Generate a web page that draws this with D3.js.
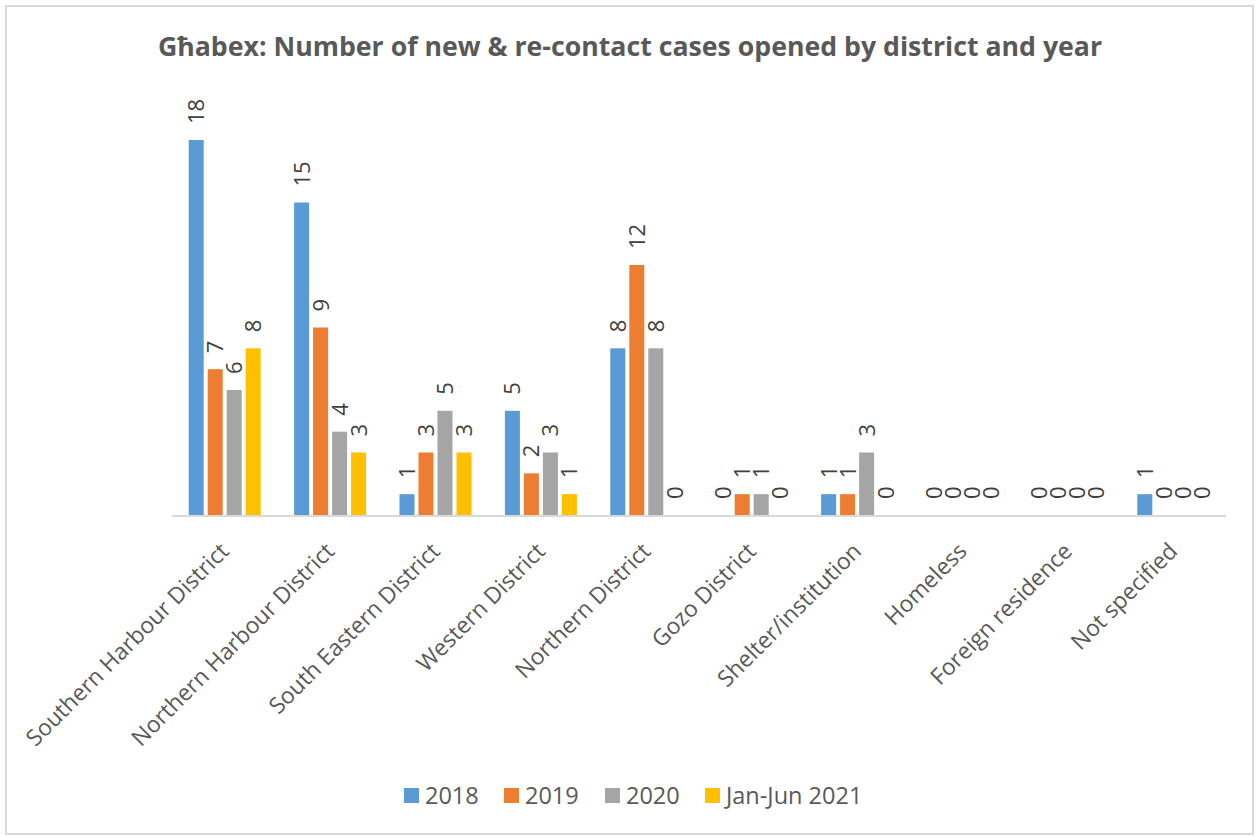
<!DOCTYPE html>
<html>
<head>
<meta charset="utf-8">
<script src="https://cdn.jsdelivr.net/npm/d3@7"></script>
<style>
  body { margin: 0; background: #fff; }
  svg text { font-family: "Open Sans", sans-serif; }
</style>
</head>
<body>
<div id="chart"></div>
<script>
// data
var districts = ["Southern Harbour District", "Northern Harbour District", "South Eastern District",
  "Western District", "Northern District", "Gozo District", "Shelter/institution",
  "Homeless", "Foreign residence", "Not specified"];
var seriesNames = ["2018", "2019", "2020", "Jan-Jun 2021"];
var cases2018 = [18, 15, 1, 5, 8, 0, 1, 0, 0, 1];
var cases2019 = [7, 9, 3, 2, 12, 1, 1, 0, 0, 0];
var cases2020 = [6, 4, 5, 3, 8, 1, 3, 0, 0, 0];
var cases2021 = [8, 3, 3, 1, 0, 0, 0, 0, 0, 0];
var colors = ["#5b9bd5", "#ed7d31", "#a5a5a5", "#ffc000"];

var allSeries = [cases2018, cases2019, cases2020, cases2021];

var width = 1259, height = 836;
var plotLeft = 172, plotRight = 1226, baseY = 515, topY = 140;

var svg = d3.select("#chart").append("svg")
  .attr("width", width)
  .attr("height", height);

// chart frame
svg.append("rect")
  .attr("x", 6).attr("y", 6)
  .attr("width", 1247).attr("height", 828)
  .attr("fill", "#fff")
  .attr("stroke", "#d9d9d9")
  .attr("stroke-width", 2);

svg.append("text")
  .attr("x", 630).attr("y", 56)
  .attr("text-anchor", "middle")
  .attr("font-size", 26.7)
  .attr("font-weight", "bold")
  .attr("fill", "#595959")
  .text("Għabex: Number of new & re-contact cases opened by district and year");

var x = d3.scaleBand().domain(districts).range([plotLeft, plotRight]);
var xs = d3.scaleBand().domain(seriesNames)
  .range([16.7, x.bandwidth() - 16.7])
  .paddingInner(0.21);
var y = d3.scaleLinear().domain([0, 18]).range([baseY, topY]);

var groups = svg.selectAll("g.series")
  .data(allSeries)
  .enter()
  .append("g")
    .attr("class", "series")
    .attr("fill", function(d, i){ return colors[i]; });

groups.selectAll("rect")
  .data(function(d, i){ return d.map(function(v, j){ return {v: v, cat: districts[j], s: seriesNames[i]}; }); })
  .enter()
  .append("rect")
    .attr("x", function(d){ return x(d.cat) + xs(d.s); })
    .attr("y", function(d){ return y(d.v); })
    .attr("width", xs.bandwidth())
    .attr("height", function(d){ return baseY - y(d.v); });

groups.selectAll("text")
  .data(function(d, i){ return d.map(function(v, j){ return {v: v, cat: districts[j], s: seriesNames[i]}; }); })
  .enter()
  .append("text")
    .attr("transform", function(d){
      var cx = x(d.cat) + xs(d.s) + xs.bandwidth() / 2;
      return "translate(" + cx + "," + (y(d.v) - 16) + ") rotate(-90)";
    })
    .attr("dy", "0.36em")
    .attr("font-size", 22)
    .attr("fill", "#404040")
    .text(function(d){ return d.v; });

// axis line
svg.append("line")
  .attr("x1", plotLeft).attr("x2", plotRight)
  .attr("y1", baseY + 1).attr("y2", baseY + 1)
  .attr("stroke", "#d9d9d9")
  .attr("stroke-width", 2);

svg.selectAll("text.cat")
  .data(districts)
  .enter()
  .append("text")
    .attr("class", "cat")
    .attr("transform", function(d){ return "translate(" + (x(d) + x.bandwidth() / 2) + ",547) rotate(-45)"; })
    .attr("text-anchor", "end")
    .attr("dy", "0.35em")
    .attr("font-size", 22.8)
    .attr("fill", "#595959")
    .text(function(d){ return d; });

// legend
var legendX = [404, 504, 605, 705];
var legend = svg.selectAll("g.legend")
  .data(seriesNames)
  .enter()
  .append("g")
    .attr("class", "legend")
    .attr("transform", function(d, i){ return "translate(" + legendX[i] + ",788)"; });

legend.append("rect")
  .attr("width", 15).attr("height", 15)
  .attr("fill", function(d, i){ return colors[i]; });

legend.append("text")
  .attr("x", 21).attr("y", 8)
  .attr("dy", "0.35em")
  .attr("font-size", 23.5)
  .attr("fill", "#595959")
  .text(function(d){ return d; });
</script>
</body>
</html>
